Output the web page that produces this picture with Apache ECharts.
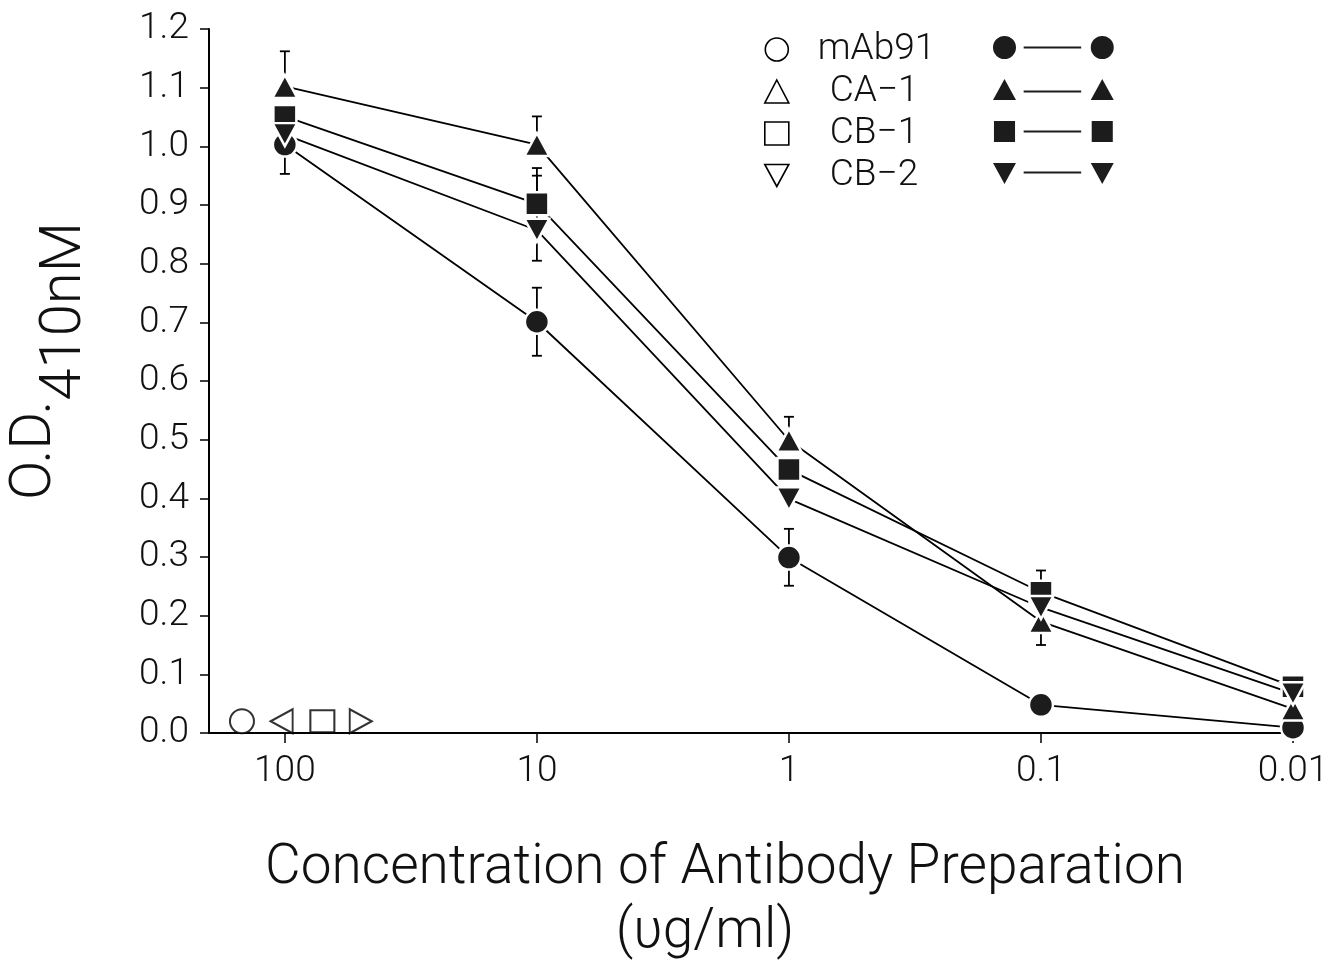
<!DOCTYPE html>
<html>
<head>
<meta charset="utf-8">
<script src="https://cdn.jsdelivr.net/npm/echarts@6/dist/echarts.min.js"></script>
<style>
html,body{margin:0;padding:0;background:#fff;}
#chart{width:1335px;height:966px;}
</style>
</head>
<body>
<div id="chart"></div>
<script>
// ---- data ----
const concentrations = [100, 10, 1, 0.1, 0.01];
const xTickLabels = ['100', '10', '1', '0.1', '0.01'];
const seriesNames = ['mAb91', 'CA\u22121', 'CB\u22121', 'CB\u22122'];

const mAb91 = [1.003, 0.701, 0.299, 0.048, 0.009];
const ca1   = [1.102, 1.003, 0.499, 0.190, 0.041];
const cb1   = [1.051, 0.902, 0.449, 0.240, 0.079];
const cb2   = [1.020, 0.857, 0.399, 0.214, 0.067];

// visible error bar ends (null = hidden behind markers)
const mAb91Low  = [0.953, 0.643, 0.251, null, null];
const mAb91High = [null, 0.759, 0.348, null, null];
const ca1Low    = [null, null, null, 0.150, null];
const ca1High   = [1.162, 1.051, 0.539, null, null];
const cb1Low    = [null, null, null, null, null];
const cb1High   = [null, 0.963, null, 0.277, null];
const cb2Low    = [null, 0.805, null, 0.171, null];
const cb2High   = [null, 0.950, null, null, null];

// open control symbols near the baseline
const controlConc = [148, 103, 71, 50];
const controlOD   = [0.02, 0.02, 0.02, 0.02];

const yTicks = [0, 1.2, 0.1];

// ---- build ----
const FONT = 'Roboto';
const FW = 300;
const INV_TRI = 'path://M0,0 L24,0 L12,22 Z';
const symbols = ['circle', 'triangle', 'rect', INV_TRI];
const values = [mAb91, ca1, cb1, cb2];
const lows = [mAb91Low, ca1Low, cb1Low, cb2Low];
const highs = [mAb91High, ca1High, cb1High, cb2High];

const legendPaths = [
  'path://M0,12 A12,12 0 1,1 24,12 A12,12 0 1,1 0,12 Z M32,11 L92,11 L92,13 L32,13 Z M102,12 A12,12 0 1,1 126,12 A12,12 0 1,1 102,12 Z',
  'path://M0,23 L12,1 L24,23 Z M32,13 L92,13 L92,15 L32,15 Z M102,23 L114,1 L126,23 Z M0,0 L0.01,0 L0.01,0.01 Z M126,24 L125.99,24 L125.99,23.99 Z',
  'path://M1,1 L23,1 L23,23 L1,23 Z M32,11 L92,11 L92,13 L32,13 Z M103,1 L125,1 L125,23 L103,23 Z M0,0 L0.01,0 L0.01,0.01 Z M126,24 L125.99,24 L125.99,23.99 Z',
  'path://M0,1 L24,1 L12,23 Z M32,10 L92,10 L92,12 L32,12 Z M102,1 L126,1 L114,23 Z M0,0 L0.01,0 L0.01,0.01 Z M126,24 L125.99,24 L125.99,23.99 Z'
];

const errData = [];
values.forEach((vals, s) => {
  vals.forEach((v, i) => {
    if (lows[s][i] != null) errData.push([concentrations[i], v, lows[s][i]]);
    if (highs[s][i] != null) errData.push([concentrations[i], v, highs[s][i]]);
  });
});

const lineSeries = seriesNames.map((name, s) => ({
  name: name,
  type: 'line',
  data: concentrations.map((c, i) => [c, values[s][i]]),
  symbol: symbols[s],
  symbolSize: s === 0 ? 24 : (s === 2 ? 23 : [25, 23]),
  showSymbol: true,
  clip: false,
  z: 3,
  lineStyle: { color: '#000', width: 1.8 },
  itemStyle: { color: '#1c1c1c', borderColor: '#fff', borderWidth: 2.5 },
  emphasis: { disabled: true }
}));

const chart = echarts.init(document.getElementById('chart'), null, { renderer: 'canvas' });

const legendTextBase = { fontFamily: FONT, fontWeight: FW, fontSize: 37, color: '#111', lineHeight: 23 };
const nameStyle = { fontFamily: FONT, fontWeight: FW, fontSize: 55, color: '#111', lineHeight: 64 };

const option = {
  animation: false,
  backgroundColor: '#fff',
  textStyle: { fontFamily: FONT, fontWeight: FW, color: '#111' },
  grid: { left: 209, right: 42, top: 29, bottom: 233, containLabel: false, outerBoundsMode: 'none' },
  legend: [
    {
      orient: 'vertical',
      left: 759, top: 26,
      itemWidth: 24, itemHeight: 23, itemGap: 5,
      selectedMode: false,
      itemStyle: { color: '#fff', borderColor: '#000', borderWidth: 1.6 },
      textStyle: Object.assign({}, legendTextBase, { padding: [0, 0, 0, 24] }),
      data: seriesNames.map((n, s) => ({
        name: n, icon: symbols[s],
        textStyle: Object.assign({}, legendTextBase, { padding: [0, 0, 0, s === 0 ? 24 : 36] })
      }))
    },
    {
      orient: 'vertical',
      left: 988, top: 31,
      itemWidth: 126, itemHeight: 23, itemGap: 19,
      selectedMode: false,
      formatter: () => '',
      itemStyle: { color: '#1c1c1c', borderWidth: 0, borderColor: 'transparent' },
      textStyle: Object.assign({}, legendTextBase),
      data: seriesNames.map((n, s) => ({ name: n, icon: legendPaths[s] }))
    }
  ],
  xAxis: {
    type: 'log',
    logBase: 10,
    inverse: true,
    min: 0.01,
    max: 200,
    name: '{l1|Concentration of Antibody Preparation}\n{l2|(\u03c5g/ml)}',
    nameLocation: 'middle',
    nameGap: 104,
    nameTextStyle: Object.assign({}, nameStyle, {
      padding: [0, 52, 0, 0],
      rich: {
        l1: Object.assign({}, nameStyle),
        l2: Object.assign({}, nameStyle, { padding: [0, 40, 0, 0] })
      }
    }),
    axisLine: { show: true, lineStyle: { color: '#000', width: 2 } },
    axisTick: { show: true, length: 10, lineStyle: { color: '#000', width: 1.5 }, customValues: concentrations },
    minorTick: { show: false },
    splitLine: { show: false },
    axisLabel: {
      customValues: concentrations,
      margin: 20,
      fontFamily: FONT, fontWeight: FW, fontSize: 37, color: '#111',
      formatter: function (v) {
        const i = concentrations.findIndex(c => Math.abs(Math.log10(c) - Math.log10(v)) < 1e-6);
        return i >= 0 ? xTickLabels[i] : '';
      }
    }
  },
  yAxis: {
    type: 'value',
    min: yTicks[0],
    max: yTicks[1],
    interval: yTicks[2],
    name: '{a|O.D.}{b|410nM}',
    nameLocation: 'middle',
    nameGap: 115,
    nameTextStyle: {
      fontFamily: FONT, fontWeight: FW, fontSize: 58, color: '#111',
      padding: [0, 0, 0, 40],
      rich: {
        a: { fontFamily: FONT, fontWeight: FW, fontSize: 58, color: '#111', lineHeight: 50, verticalAlign: 'top' },
        b: { fontFamily: FONT, fontWeight: FW, fontSize: 58, color: '#111', lineHeight: 88, verticalAlign: 'bottom' }
      }
    },
    axisLine: { show: true, lineStyle: { color: '#000', width: 2 } },
    axisTick: { show: true, length: 9, lineStyle: { color: '#000', width: 1.5 } },
    splitLine: { show: false },
    axisLabel: {
      margin: 20,
      fontFamily: FONT, fontWeight: FW, fontSize: 37, color: '#111',
      formatter: v => v.toFixed(1)
    }
  },
  series: [
    {
      name: 'errorbars',
      type: 'custom',
      z: 2,
      clip: false,
      data: errData,
      encode: { x: 0, y: 1 },
      renderItem: function (params, api) {
        const x = api.value(0);
        const p0 = api.coord([x, api.value(1)]);
        const p1 = api.coord([x, api.value(2)]);
        const hw = 5;
        return {
          type: 'group',
          children: [
            { type: 'line', shape: { x1: p0[0], y1: p0[1], x2: p1[0], y2: p1[1] }, style: { stroke: '#000', lineWidth: 1.8 } },
            { type: 'line', shape: { x1: p1[0] - hw, y1: p1[1], x2: p1[0] + hw, y2: p1[1] }, style: { stroke: '#000', lineWidth: 1.8 } }
          ]
        };
      }
    },
    ...lineSeries,
    {
      name: 'controls',
      type: 'scatter',
      z: 4,
      clip: false,
      symbolSize: 24,
      itemStyle: { color: '#000', borderWidth: 1.6 },
      emphasis: { disabled: true },
      data: [
        { value: [controlConc[0], controlOD[0]], symbol: 'emptyCircle' },
        { value: [controlConc[1], controlOD[1]], symbol: 'emptyTriangle', symbolRotate: 90, symbolSize: [24, 22] },
        { value: [controlConc[2], controlOD[2]], symbol: 'emptyRect', symbolSize: [24, 22] },
        { value: [controlConc[3], controlOD[3]], symbol: 'emptyTriangle', symbolRotate: -90, symbolSize: [24, 22] }
      ]
    }
  ]
};

chart.setOption(option);
</script>
</body>
</html>
